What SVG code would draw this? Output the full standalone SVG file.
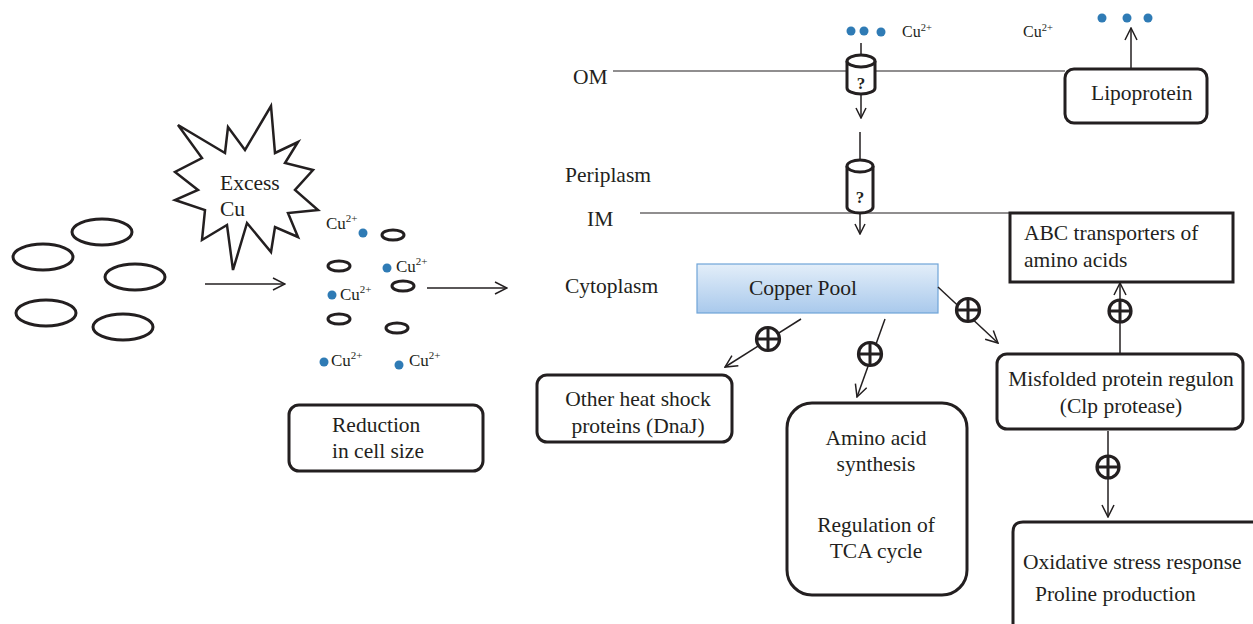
<svg xmlns="http://www.w3.org/2000/svg" width="1253" height="624" viewBox="0 0 1253 624">
<defs>
<style>
.t{font-family:'Liberation Serif','DejaVu Serif',serif;fill:#231f20;font-size:21.5px}
.s{font-family:'Liberation Serif','DejaVu Serif',serif;fill:#231f20;font-size:17px}
.s2{font-family:'Liberation Serif','DejaVu Serif',serif;fill:#231f20;font-size:16px}
.q{font-family:'Liberation Serif','DejaVu Serif',serif;fill:#231f20;font-size:17px;font-weight:bold}
.box{fill:#fff;stroke:#231f20;stroke-width:3}
.cell{fill:none;stroke:#231f20;stroke-width:3}
.dot{fill:#2f7bb5}
.ln{fill:none;stroke:#231f20;stroke-width:1.5}
.mem{fill:none;stroke:#231f20;stroke-width:1.2}
.plus{fill:#fff;stroke:#231f20;stroke-width:3.2}
.cross{fill:none;stroke:#231f20;stroke-width:3}
</style>
<marker id="arr" viewBox="0 0 14 14" refX="13" refY="7" markerWidth="14" markerHeight="14" orient="auto" markerUnits="userSpaceOnUse">
<path d="M1,1 L13,7 L1,13" fill="none" stroke="#231f20" stroke-width="1.5"/>
</marker>
<marker id="arrs" viewBox="0 0 12 12" refX="11" refY="6" markerWidth="12" markerHeight="12" orient="auto" markerUnits="userSpaceOnUse">
<path d="M1,1 L11,6 L1,11" fill="none" stroke="#231f20" stroke-width="1.5"/>
</marker>
<linearGradient id="cp" x1="0" y1="0" x2="0" y2="1">
<stop offset="0" stop-color="#e3eef9"/>
<stop offset="1" stop-color="#a9c9ec"/>
</linearGradient>
</defs>
<rect width="1253" height="624" fill="#fff"/>

<g id="cells">
<ellipse class="cell" cx="102" cy="232" rx="30" ry="13"/>
<ellipse class="cell" cx="43" cy="257" rx="30" ry="13"/>
<ellipse class="cell" cx="135" cy="277" rx="30" ry="13"/>
<ellipse class="cell" cx="46" cy="313" rx="30" ry="13"/>
<ellipse class="cell" cx="123" cy="327" rx="30" ry="13"/>
</g>

<g id="excess-cu">
<polygon points="178,125 225,153 228,127 245,150 271,106 275,153 298,142 285,163 313,170 295,190 318,210 288,213 298,237 275,227 271,252 247,223 233,270 227,225 202,240 205,210 175,200 198,190 175,172 202,158" fill="#fff" stroke="#231f20" stroke-width="2.5" stroke-linejoin="miter"/>
<text class="t" x="220" y="190">Excess</text>
<text class="t" x="220" y="216">Cu</text>
</g>

<g id="small-cells">
<ellipse class="cell" cx="393" cy="235" rx="11" ry="5"/>
<ellipse class="cell" cx="339" cy="266" rx="11" ry="5"/>
<ellipse class="cell" cx="403" cy="286" rx="11" ry="5"/>
<ellipse class="cell" cx="339" cy="319" rx="11" ry="5"/>
<ellipse class="cell" cx="397" cy="328" rx="11" ry="5"/>
<circle class="dot" cx="363" cy="233" r="4.5"/>
<circle class="dot" cx="387" cy="268" r="4.5"/>
<circle class="dot" cx="332" cy="295" r="4.5"/>
<circle class="dot" cx="324" cy="362" r="4.5"/>
<circle class="dot" cx="399" cy="365" r="4.5"/>
<text class="s" x="326" y="229">Cu<tspan font-size="11" dy="-7">2+</tspan></text>
<text class="s" x="396" y="272">Cu<tspan font-size="11" dy="-7">2+</tspan></text>
<text class="s" x="340" y="300">Cu<tspan font-size="11" dy="-7">2+</tspan></text>
<text class="s" x="331" y="366">Cu<tspan font-size="11" dy="-7">2+</tspan></text>
<text class="s" x="409" y="366">Cu<tspan font-size="11" dy="-7">2+</tspan></text>
</g>

<g id="reduction">
<rect class="box" x="289" y="405" width="194" height="66" rx="10"/>
<text class="t" x="332" y="432">Reduction</text>
<text class="t" x="332" y="458">in cell size</text>
</g>

<g id="compartments">
<text class="t" x="573" y="84">OM</text>
<text class="t" x="565" y="182">Periplasm</text>
<text class="t" x="587" y="226">IM</text>
<text class="t" x="565" y="293">Cytoplasm</text>
<line class="mem" x1="613" y1="71" x2="1065" y2="71"/>
<line class="mem" x1="640" y1="213" x2="1010" y2="213"/>
</g>

<g id="channel-om">
<circle class="dot" cx="851" cy="31" r="4.5"/>
<circle class="dot" cx="864" cy="31" r="4.5"/>
<circle class="dot" cx="881" cy="32" r="4.5"/>
<text class="s2" x="902" y="37">Cu<tspan font-size="10.5" dy="-6">2+</tspan></text>
<path d="M847,61 L847,88 A14,6 0 0 0 875,88 L875,61" fill="#fff" stroke="#231f20" stroke-width="3"/>
<ellipse cx="861" cy="61" rx="14" ry="6" fill="#fff" stroke="#231f20" stroke-width="3"/>
<text class="q" x="861" y="89" text-anchor="middle">?</text>
</g>

<g id="channel-im">
<path d="M847,166 L847,207 A13,6 0 0 0 873,207 L873,166" fill="#fff" stroke="#231f20" stroke-width="3"/>
<ellipse cx="860" cy="166" rx="13" ry="6" fill="#fff" stroke="#231f20" stroke-width="3"/>
<text class="q" x="860" y="203" text-anchor="middle">?</text>
</g>

<g id="lipoprotein">
<rect class="box" x="1065" y="69" width="142" height="54" rx="9"/>
<text class="t" x="1091" y="100">Lipoprotein</text>
<circle class="dot" cx="1102" cy="18" r="4.5"/>
<circle class="dot" cx="1127" cy="18" r="4.5"/>
<circle class="dot" cx="1148" cy="18" r="4.5"/>
<text class="s2" x="1023" y="37">Cu<tspan font-size="10.5" dy="-6">2+</tspan></text>
</g>

<g id="copper-pool">
<rect x="697" y="264" width="241" height="49" fill="url(#cp)" stroke="#6fa4d8" stroke-width="1.2"/>
<text class="t" x="803" y="295" text-anchor="middle">Copper Pool</text>
</g>

<g id="abc">
<rect class="box" x="1010" y="213" width="223" height="69" stroke-width="3.5"/>
<text class="t" x="1024" y="240">ABC transporters of</text>
<text class="t" x="1024" y="267">amino acids</text>
</g>

<g id="misfolded">
<rect class="box" x="997" y="354" width="246" height="75" rx="10"/>
<text class="t" x="1121" y="386" text-anchor="middle">Misfolded protein regulon</text>
<text class="t" x="1121" y="413" text-anchor="middle">(Clp protease)</text>
</g>

<g id="heat-shock">
<rect class="box" x="537" y="375" width="195" height="67" rx="10"/>
<text class="t" x="638" y="406" text-anchor="middle">Other heat shock</text>
<text class="t" x="638" y="433" text-anchor="middle">proteins (DnaJ)</text>
</g>

<g id="amino-acid">
<rect class="box" x="787" y="403" width="180" height="192" rx="25"/>
<text class="t" x="876" y="445" text-anchor="middle">Amino acid</text>
<text class="t" x="876" y="471" text-anchor="middle">synthesis</text>
<text class="t" x="876" y="532" text-anchor="middle">Regulation of</text>
<text class="t" x="876" y="558" text-anchor="middle">TCA cycle</text>
</g>

<g id="oxidative">
<path d="M1013,640 L1013,532 Q1013,522 1023,522 L1262,522" fill="#fff" stroke="#231f20" stroke-width="3"/>
<text class="t" x="1023" y="569">Oxidative stress response</text>
<text class="t" x="1035" y="601">Proline production</text>
</g>

<g id="connectors">
<line class="ln" x1="205" y1="284" x2="285" y2="284" marker-end="url(#arr)"/>
<line class="ln" x1="427" y1="288" x2="507" y2="288" marker-end="url(#arr)"/>
<line class="ln" x1="861" y1="43" x2="861" y2="55"/>
<line class="ln" x1="861" y1="94" x2="861" y2="118" marker-end="url(#arrs)"/>
<line class="ln" x1="860" y1="132" x2="860" y2="160"/>
<line class="ln" x1="860" y1="213" x2="860" y2="234" marker-end="url(#arrs)"/>
<line class="ln" x1="1131" y1="69" x2="1131" y2="28" marker-end="url(#arr)"/>
<line class="ln" x1="801" y1="319" x2="725" y2="367" marker-end="url(#arr)"/>
<line class="ln" x1="885" y1="319" x2="857" y2="397" marker-end="url(#arr)"/>
<line class="ln" x1="938" y1="287" x2="998" y2="343" marker-end="url(#arr)"/>
<line class="ln" x1="1120" y1="354" x2="1120" y2="283" marker-end="url(#arr)"/>
<line class="ln" x1="1108" y1="431" x2="1108" y2="517" marker-end="url(#arr)"/>
<g id="plus-signs">
<circle class="plus" cx="768" cy="339" r="11.5"/>
<path class="cross" d="M757,339 H779 M768,328 V350"/>
<circle class="plus" cx="870" cy="354" r="11.5"/>
<path class="cross" d="M859,354 H881 M870,343 V365"/>
<circle class="plus" cx="968" cy="310" r="11.5"/>
<path class="cross" d="M957,310 H979 M968,299 V321"/>
<circle class="plus" cx="1120" cy="311" r="11"/>
<path class="cross" d="M1109,311 H1131 M1120,300 V322"/>
<circle class="plus" cx="1108" cy="467" r="11"/>
<path class="cross" d="M1097,467 H1119 M1108,456 V478"/>
</g>
</g>
</svg>
